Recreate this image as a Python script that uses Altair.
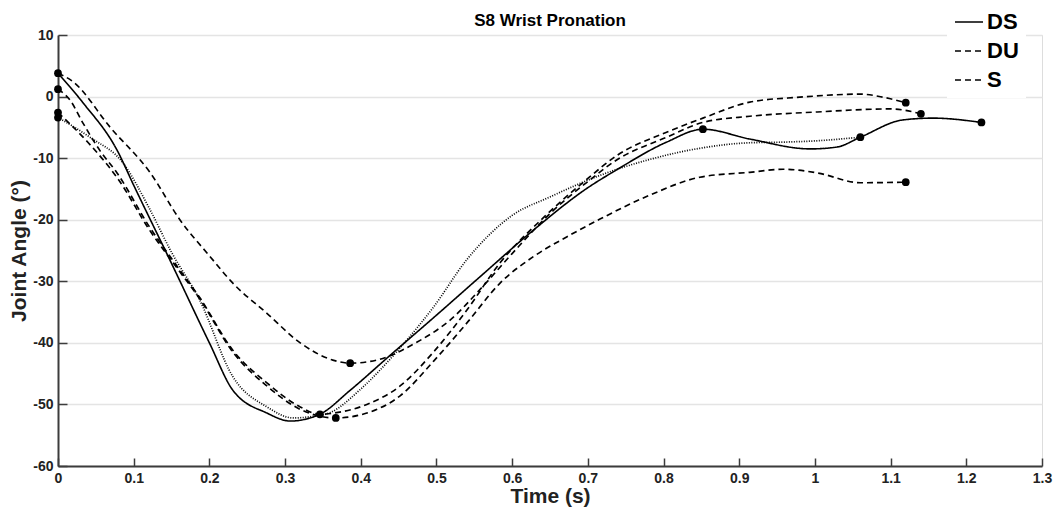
import altair as alt
import pandas as pd

# ---- data ----
title_text = ["S8 Wrist Pronation"]

ds_t = [0, 0.033, 0.078, 0.1, 0.15, 0.2, 0.231, 0.276, 0.307, 0.333, 0.346, 0.386, 0.439, 0.5, 0.56,
        0.628, 0.7, 0.738, 0.804, 0.852, 0.914, 0.994, 1.029, 1.06, 1.116, 1.156, 1.22]
ds_y = [3.8, -1.0, -8.7, -14.4, -27.1, -40.0, -47.7, -51.4, -52.7, -52.2, -51.6, -47.7, -42.0, -35.5, -29.0,
        -21.7, -14.8, -11.9, -7.4, -5.3, -6.9, -8.5, -8.2, -6.6, -3.8, -3.5, -4.2]

du_t = [0, 0.02, 0.069, 0.122, 0.161, 0.201, 0.231, 0.276, 0.32, 0.363, 0.386, 0.421, 0.474, 0.518, 0.56,
        0.6, 0.65, 0.7, 0.738, 0.804, 0.852, 0.914, 1.003, 1.1, 1.14]
du_y = [3.8, 2.4, -5.0, -12.4, -20.0, -26.0, -30.3, -35.2, -40.0, -42.8, -43.3, -42.8, -39.9, -36.3, -31.0,
        -25.5, -19.0, -13.8, -10.3, -6.6, -4.2, -3.2, -2.5, -2.0, -2.8]

s_t = [0, 0.016, 0.033, 0.055, 0.078, 0.12, 0.16, 0.187, 0.231, 0.276, 0.32, 0.346, 0.37, 0.408, 0.452,
       0.496, 0.54, 0.584, 0.641, 0.7, 0.738, 0.804, 0.852, 0.914, 0.98, 1.06, 1.09, 1.12]
s_y = [1.2, -0.6, -4.3, -8.7, -12.4, -21.0, -28.0, -32.6, -41.2, -46.5, -50.4, -51.6, -51.3, -50.0, -47.0,
       -41.5, -34.7, -27.0, -19.7, -13.3, -9.6, -5.8, -3.5, -0.9, -0.1, 0.4, -0.1, -1.0]

s2_t = [0, 0.04, 0.08, 0.12, 0.16, 0.187, 0.231, 0.276, 0.32, 0.367, 0.408, 0.452, 0.496, 0.54, 0.584,
        0.628, 0.672, 0.716, 0.782, 0.848, 0.914, 0.958, 1.003, 1.06, 1.12]
s2_y = [-2.6, -7.5, -13.5, -21.5, -28.3, -32.8, -41.5, -47.0, -50.8, -52.2, -51.4, -48.6, -43.0, -36.8, -30.3,
        -26.0, -22.8, -19.9, -16.0, -13.1, -12.3, -11.8, -12.4, -14.0, -13.9]

dot_t = [0, 0.042, 0.086, 0.12, 0.15, 0.187, 0.231, 0.276, 0.311, 0.333, 0.36, 0.4, 0.452, 0.496, 0.54,
         0.6, 0.65, 0.716, 0.782, 0.848, 0.914, 0.958, 1.0, 1.06]
dot_y = [-3.4, -6.6, -10.8, -18.0, -25.3, -33.0, -45.5, -50.4, -52.2, -52.0, -51.3, -47.5, -40.8, -34.2, -26.5,
         -19.3, -16.3, -12.8, -10.2, -8.4, -7.5, -7.4, -7.2, -6.6]

marker_t = [0, 0, 0, 0, 0.346, 0.367, 0.386, 0.852, 1.06, 1.12, 1.14, 1.12, 1.22]
marker_y = [3.8, 1.2, -2.6, -3.4, -51.6, -52.2, -43.3, -5.3, -6.6, -1.0, -2.8, -13.9, -4.2]

series_names = ["DS", "DU", "S", "S2", "DOT"]
legend_names = ["DS", "DU", "S"]
x_ticks = [0, 0.1, 0.2, 0.3, 0.4, 0.5, 0.6, 0.7, 0.8, 0.9, 1.0, 1.1, 1.2, 1.3]
y_ticks = [-60, -50, -40, -30, -20, -10, 0, 10]

series = {"DS": (ds_t, ds_y), "DU": (du_t, du_y), "S": (s_t, s_y),
          "S2": (s2_t, s2_y), "DOT": (dot_t, dot_y)}
rows = []
for name, (ts, ys) in series.items():
    for a, b in zip(ts, ys):
        rows.append({"series": name, "t": a, "y": b})
df = pd.DataFrame(rows)
markers = pd.DataFrame({"t": marker_t, "y": marker_y})
titles = pd.DataFrame({"label": title_text})

FONT = "Liberation Sans"
AX = "#3c3c3c"
TXT = "#222222"
HYPHEN = "replace(datum.label, '\u2212', '-')"
W, H = 984, 431

xscale = alt.Scale(domain=[0, 1.3], nice=False, zero=False)
yscale = alt.Scale(domain=[-60, 10], nice=False, zero=False)

x_main = alt.X("t:Q", scale=xscale, axis=alt.Axis(
    orient="bottom", values=x_ticks, format="~g", ticks=False, grid=False,
    domainColor=AX, domainWidth=2, labelFlush=False,
    labelFont=FONT, labelFontSize=14, labelFontWeight="bold", labelColor=TXT, labelPadding=5,
    title="Time (s)", titleFont=FONT, titleFontSize=21, titleFontWeight="bold",
    titleColor=TXT, titlePadding=0))
y_main = alt.Y("y:Q", scale=yscale, axis=alt.Axis(
    orient="left", values=y_ticks, ticks=False, grid=True, gridColor="#e4e4e4", gridWidth=1.5,
    domainColor=AX, domainWidth=2, labelExpr=HYPHEN,
    labelFont=FONT, labelFontSize=14, labelFontWeight="bold", labelColor=TXT, labelPadding=5,
    title="Joint Angle (°)", titleFont=FONT, titleFontSize=21, titleFontWeight="bold",
    titleColor=TXT, titlePadding=3))

x_ticks_axis = alt.X("t:Q", scale=xscale, axis=alt.Axis(
    orient="bottom", offset=-8, values=x_ticks, tickSize=8, tickWidth=1.5, tickColor=AX,
    labels=False, domain=False, grid=False, title=None))
y_ticks_axis = alt.Y("y:Q", scale=yscale, axis=alt.Axis(
    orient="left", offset=-9, values=y_ticks, tickSize=9, tickWidth=1.5, tickColor=AX,
    labels=False, domain=False, grid=False, title=None))

lines = alt.Chart(df).mark_line(interpolate="monotone", color="black").encode(
    x=x_main,
    y=y_main,
    strokeDash=alt.StrokeDash("series:N", scale=alt.Scale(
        domain=series_names, range=[[1, 0], [6, 4], [6, 4], [6, 4], [1, 1.5]]),
        legend=alt.Legend(values=legend_names, title=None, orient="none", legendX=889, legendY=-35,
                          fillColor="white", padding=7, rowPadding=3, labelOffset=3,
                          labelFont=FONT, labelFontSize=22, labelFontWeight="bold", labelColor="black",
                          symbolType="stroke", symbolSize=784, symbolStrokeWidth=1.8,
                          symbolStrokeColor="black")),
    strokeWidth=alt.StrokeWidth("series:N", scale=alt.Scale(
        domain=series_names, range=[1.6, 1.7, 1.7, 1.7, 1.2]), legend=None),
)

points = alt.Chart(markers).mark_circle(size=60, color="black", opacity=1).encode(
    x=x_ticks_axis, y=y_ticks_axis)

# chart title drawn as a text mark centred above the plot area
title_mark = alt.Chart(titles).mark_text(
    font=FONT, fontSize=17, fontWeight="bold", color="black", align="center", baseline="alphabetic"
).encode(text="label:N", x=alt.value(W / 2), y=alt.value(-9))

chart = alt.layer(lines, points, title_mark).resolve_axis(x="independent", y="independent").properties(
    width=W, height=H,
    autosize=alt.AutoSizeParams(type="none"),
    padding={"left": 58, "top": 35, "right": 11, "bottom": 45},
).configure_view(strokeWidth=0).configure(font=FONT)

chart.save("out.html", embed_options={"renderer": "svg", "actions": False})
